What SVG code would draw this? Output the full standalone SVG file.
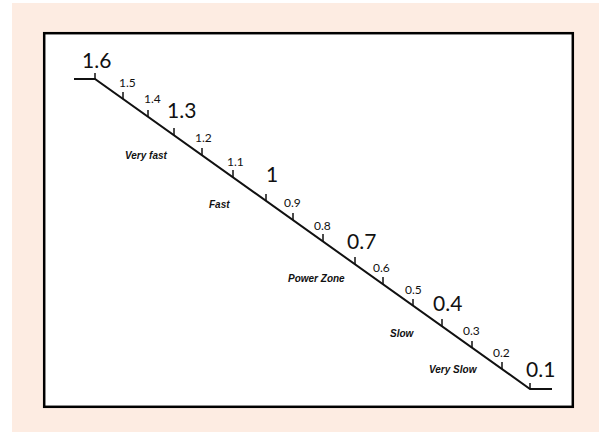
<svg xmlns="http://www.w3.org/2000/svg" width="599" height="432" viewBox="0 0 599 432">
<style>
.lbl{font-family:"Lato","Open Sans","Liberation Sans",sans-serif;fill:#111}
.s{font-size:12px}
.b{font-size:21px}
.z{font-family:"Liberation Sans","Arial",sans-serif;font-size:10px;font-weight:bold;font-style:italic;fill:#111}
.tk{stroke:#111;stroke-width:1.5}
</style>
<rect x="0" y="0" width="599" height="432" fill="#ffffff"/>
<rect x="12" y="3" width="587" height="429" fill="#fdece2"/>
<rect x="44.2" y="33.2" width="528.6" height="373.6" fill="#ffffff" stroke="#000" stroke-width="2.5"/>
<g id="scale">
<polyline points="74,79 95,79 530,389 552,389" fill="none" stroke="#111" stroke-width="2"/>
<g id="ticks">
<line class="tk" x1="95" y1="73" x2="95" y2="79"/>
<line class="tk" x1="123" y1="92" x2="123" y2="99"/>
<line class="tk" x1="148" y1="110" x2="148" y2="117"/>
<line class="tk" x1="174" y1="128" x2="174" y2="135"/>
<line class="tk" x1="202" y1="148" x2="202" y2="155"/>
<line class="tk" x1="233" y1="170" x2="233" y2="177"/>
<line class="tk" x1="266" y1="194" x2="266" y2="201"/>
<line class="tk" x1="293" y1="213" x2="293" y2="220"/>
<line class="tk" x1="323" y1="234" x2="323" y2="241"/>
<line class="tk" x1="355" y1="257" x2="355" y2="264"/>
<line class="tk" x1="383" y1="277" x2="383" y2="284"/>
<line class="tk" x1="413" y1="299" x2="413" y2="306"/>
<line class="tk" x1="442" y1="319" x2="442" y2="326"/>
<line class="tk" x1="472" y1="341" x2="472" y2="348"/>
<line class="tk" x1="502" y1="362" x2="502" y2="369"/>
<line class="tk" x1="530" y1="383" x2="530" y2="389"/>
</g>
</g>
<g id="labels">
<text class="lbl b" x="82" y="68">1.6</text>
<text class="lbl s" x="119" y="87">1.5</text>
<text class="lbl s" x="144" y="103">1.4</text>
<text class="lbl b" x="167" y="118">1.3</text>
<text class="lbl s" x="195" y="142">1.2</text>
<text class="lbl s" x="227" y="166">1.1</text>
<text class="lbl b" x="266" y="182">1</text>
<text class="lbl s" x="284" y="207">0.9</text>
<text class="lbl s" x="314" y="230">0.8</text>
<text class="lbl b" x="347" y="249">0.7</text>
<text class="lbl s" x="373" y="272">0.6</text>
<text class="lbl s" x="405" y="294">0.5</text>
<text class="lbl b" x="433" y="311">0.4</text>
<text class="lbl s" x="463" y="335">0.3</text>
<text class="lbl s" x="493" y="357">0.2</text>
<text class="lbl b" x="526" y="377">0.1</text>
</g>
<g id="zones">
<text class="z" x="125" y="159">Very fast</text>
<text class="z" x="209" y="208">Fast</text>
<text class="z" x="288" y="282">Power Zone</text>
<text class="z" x="390" y="337">Slow</text>
<text class="z" x="429" y="373">Very Slow</text>
</g>
</svg>
